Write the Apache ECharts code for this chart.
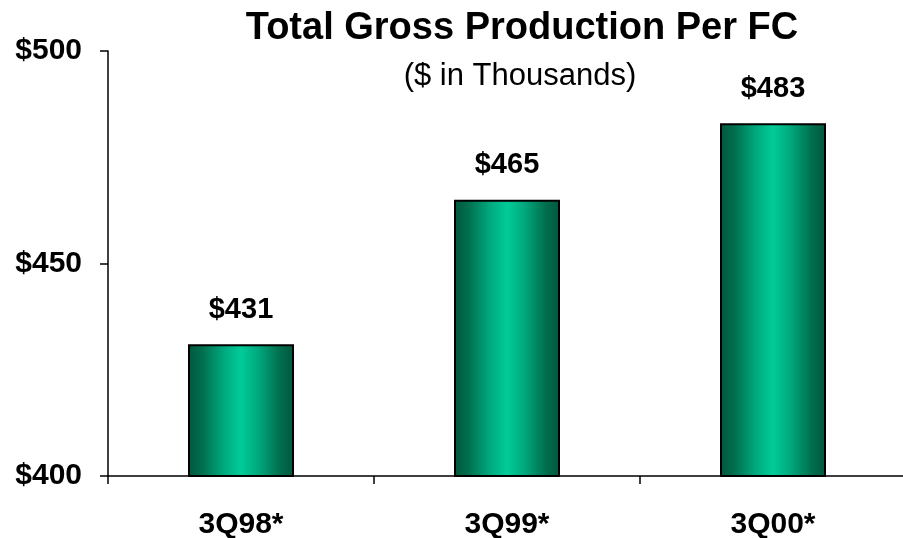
<!DOCTYPE html>
<html>
<head>
<meta charset="utf-8">
<script src="https://cdn.jsdelivr.net/npm/echarts@6/dist/echarts.min.js"></script>
<style>
  html, body { margin: 0; padding: 0; background: #fff; }
  #chart { width: 903px; height: 538px; }
</style>
</head>
<body>
<div id="chart"></div>
<script>
// Quarterly gross production per FC, in thousands of dollars
const quarters = ['3Q98*', '3Q99*', '3Q00*'];
const production = [431, 465, 483];
const yTicks = [400, 450, 500];

const FONT = '"Liberation Sans", Arial, Helvetica, sans-serif';

// Cylinder-like shading: dark edges, bright centre
const barFill = new echarts.graphic.LinearGradient(0, 0, 1, 0, [
  { offset: 0, color: '#00563e' },
  { offset: 0.14, color: '#00704f' },
  { offset: 0.33, color: '#00a77c' },
  { offset: 0.5, color: '#00cc99' },
  { offset: 0.67, color: '#00a77c' },
  { offset: 0.86, color: '#00704f' },
  { offset: 1, color: '#00563e' }
]);

const chart = echarts.init(document.getElementById('chart'), null, { renderer: 'canvas' });
chart.setOption({
  animation: false,
  backgroundColor: '#ffffff',
  title: [
    {
      text: 'Total Gross Production Per FC',
      left: 517, top: 5, textAlign: 'center',
      textStyle: { fontFamily: FONT, fontSize: 38, fontWeight: 'bold', color: '#000' }
    },
    {
      text: '($ in Thousands)',
      left: 515, top: 56, textAlign: 'center',
      textStyle: { fontFamily: FONT, fontSize: 31, fontWeight: 'normal', color: '#000' }
    }
  ],
  grid: {
    left: 108, right: -3, top: 51, bottom: 62,
    containLabel: false, outerBoundsMode: 'none'
  },
  xAxis: {
    type: 'category',
    data: quarters,
    axisLine: { lineStyle: { color: '#000', width: 1.5 } },
    axisTick: { show: true, length: 8, inside: false, lineStyle: { color: '#000', width: 1.5 } },
    axisLabel: { fontFamily: FONT, fontSize: 30, fontWeight: 'bold', color: '#000', margin: 34 }
  },
  yAxis: {
    type: 'value',
    min: yTicks[0], max: yTicks[yTicks.length - 1], interval: 50,
    splitLine: { show: false },
    axisLine: { show: true, lineStyle: { color: '#000', width: 1.5 } },
    axisTick: { show: true, length: 8, lineStyle: { color: '#000', width: 1.5 } },
    axisLabel: {
      fontFamily: FONT, fontSize: 30, fontWeight: 'bold', color: '#000', margin: 26,
      formatter: v => '$' + v
    }
  },
  series: [{
    type: 'bar',
    data: production,
    barWidth: 106,
    itemStyle: { color: barFill, borderColor: '#000', borderWidth: 2 },
    label: {
      show: true, position: 'top', distance: 20,
      fontFamily: FONT, fontSize: 29, fontWeight: 'bold', color: '#000',
      formatter: p => '$' + p.value
    }
  }]
});
</script>
</body>
</html>
